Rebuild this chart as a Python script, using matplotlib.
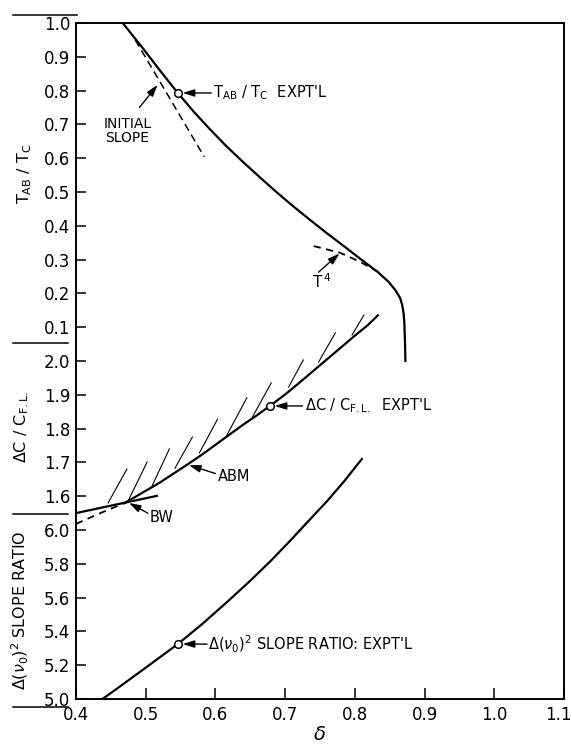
import matplotlib
matplotlib.use("Agg")
import matplotlib.pyplot as plt
from matplotlib.lines import Line2D
from matplotlib.transforms import ScaledTranslation

plt.rcParams['font.family'] = ['DejaVu Sans']
plt.rcParams['mathtext.fontset'] = 'dejavusans'

# --- top panel: T_AB / T_C vs delta
t_delta = [0.467, 0.496, 0.521, 0.546, 0.570, 0.592, 0.615, 0.640, 0.664, 0.688,
           0.712, 0.736, 0.758, 0.781, 0.808, 0.833, 0.848, 0.858, 0.865, 0.868,
           0.870, 0.871, 0.872, 0.8725]
t_ratio = [1.000, 0.925, 0.858, 0.793, 0.735, 0.686, 0.637, 0.588, 0.543, 0.499,
           0.457, 0.417, 0.381, 0.345, 0.302, 0.263, 0.235, 0.210, 0.186, 0.165,
           0.140, 0.112, 0.050, 0.000]
t_expt = (0.546, 0.793)
slope_delta = [0.485, 0.584]
slope_ratio = [0.950, 0.604]
t4_delta = [0.741, 0.779, 0.808, 0.834]
t4_ratio = [0.340, 0.320, 0.293, 0.263]

# --- middle panel: dC / C_FL
abm_delta = [0.470, 0.495, 0.520, 0.540, 0.560, 0.580, 0.600, 0.620, 0.640, 0.660,
             0.678, 0.700, 0.720, 0.740, 0.760, 0.780, 0.800, 0.818, 0.833]
abm_c = [1.580, 1.610, 1.640, 1.667, 1.694, 1.722, 1.752, 1.782, 1.812, 1.840,
         1.867, 1.901, 1.935, 1.970, 2.005, 2.040, 2.075, 2.105, 2.135]
abm_dash_delta = [0.400, 0.435, 0.470]
abm_dash_c = [1.518, 1.550, 1.580]
bw_delta = [0.400, 0.516]
bw_c = [1.550, 1.601]
c_expt = (0.678, 1.867)
hatch_d0 = [0.446, 0.474, 0.509, 0.542, 0.577, 0.615, 0.653, 0.705, 0.748, 0.796]
hatch_c0 = [1.580, 1.583, 1.630, 1.683, 1.728, 1.775, 1.834, 1.923, 1.997, 2.077]
hatch_d1 = [0.473, 0.502, 0.534, 0.567, 0.603, 0.645, 0.680, 0.726, 0.772, 0.813]
hatch_c1 = [1.680, 1.701, 1.740, 1.775, 1.828, 1.891, 1.935, 2.003, 2.083, 2.136]

# --- bottom panel: d(nu0)^2 slope ratio
s_delta = [0.438, 0.460, 0.490, 0.518, 0.546, 0.580, 0.617, 0.650, 0.680, 0.708,
           0.735, 0.760, 0.785, 0.810]
s_ratio = [5.000, 5.065, 5.155, 5.240, 5.325, 5.440, 5.575, 5.700, 5.820, 5.940,
           6.060, 6.170, 6.290, 6.420]
s_expt = (0.546, 5.325)

x_ticks = [0.4, 0.5, 0.6, 0.7, 0.8, 0.9, 1.0, 1.1]
t_ticks = [0.1, 0.2, 0.3, 0.4, 0.5, 0.6, 0.7, 0.8, 0.9, 1.0]
c_ticks = [1.6, 1.7, 1.8, 1.9, 2.0]
s_ticks = [5.0, 5.2, 5.4, 5.6, 5.8, 6.0]

W, H = 572, 751
fig = plt.figure(figsize=(W / 100, H / 100), dpi=100)
rect = [76 / W, 52 / H, 488 / W, 676 / H]

ax = fig.add_axes(rect)
axc = fig.add_axes(rect, sharex=ax)
axs = fig.add_axes(rect, sharex=ax)
for a in (axc, axs):
    a.patch.set_visible(False)
    for sp in a.spines.values():
        sp.set_visible(False)
    a.tick_params(axis='x', bottom=False, labelbottom=False)
for sp in ax.spines.values():
    sp.set_linewidth(1.4)

ax.set_xlim(0.4, 1.1)
ax.set_ylim(-1.0, 1.0)
axc.set_ylim(1.0, 3.0)
axs.set_ylim(5.0, 9.0)

ax.set_xticks(x_ticks)
ax.set_xticklabels([f"{v:.1f}" for v in x_ticks])
ax.set_yticks(t_ticks)
ax.set_yticklabels([f"{v:.1f}" for v in t_ticks])
axc.set_yticks(c_ticks)
axc.set_yticklabels([f"{v:.1f}" for v in c_ticks])
axs.set_yticks(s_ticks)
axs.set_yticklabels([f"{v:.1f}" for v in s_ticks])
for a in (ax, axc, axs):
    a.tick_params(axis='y', direction='in', length=7, width=1.1, pad=4, labelsize=12)
ax.tick_params(axis='x', direction='in', length=8, width=1.1, pad=5, labelsize=12)
ax.set_xlabel(r'$\delta$', fontsize=14, labelpad=1)
# keep the last x label inside the figure
last = ax.get_xticklabels()[-1]
last.set_transform(last.get_transform() + ScaledTranslation(-0.06, 0, fig.dpi_scale_trans))

lw = 1.6
# top panel
ax.plot(t_delta, t_ratio, color='k', lw=lw)
ax.plot(slope_delta, slope_ratio, color='k', lw=1.1, dashes=(5, 3))
ax.plot(t4_delta, t4_ratio, color='k', lw=1.3, dashes=(4, 3))
ax.plot(*t_expt, 'o', ms=5.5, mfc='white', mec='k', mew=1.1)

arrow = dict(arrowstyle='-|>,head_length=0.7,head_width=0.22', color='k', lw=1.0,
             shrinkA=0, shrinkB=0)
ax.annotate('', xy=(0.517, 0.817), xytext=(0.491, 0.75), arrowprops=arrow)
ax.text(0.474, 0.68, 'INITIAL\nSLOPE', ha='center', va='center', fontsize=10,
        linespacing=1.0)
ax.annotate('', xy=(0.553, 0.793), xytext=(0.594, 0.793), arrowprops=arrow)
ax.text(0.597, 0.793, r"T$_{\rm AB}$ / T$_{\rm C}$  EXPT'L", ha='left', va='center',
        fontsize=10.5)
ax.annotate('', xy=(0.778, 0.318), xytext=(0.748, 0.263), arrowprops=arrow)
ax.text(0.738, 0.236, r'T$^{\,4}$', ha='left', va='center', fontsize=11)

# middle panel
axc.plot(abm_delta, abm_c, color='k', lw=lw)
axc.plot(abm_dash_delta, abm_dash_c, color='k', lw=1.3, dashes=(4, 3))
axc.plot(bw_delta, bw_c, color='k', lw=lw)
for d0, c0, d1, c1 in zip(hatch_d0, hatch_c0, hatch_d1, hatch_c1):
    axc.plot([d0, d1], [c0, c1], color='k', lw=0.8)
axc.plot(*c_expt, 'o', ms=5.5, mfc='white', mec='k', mew=1.1)
axc.annotate('', xy=(0.685, 1.867), xytext=(0.725, 1.867), arrowprops=arrow)
axc.text(0.728, 1.867, r"$\Delta$C / C$_{\rm F.L.}$  EXPT'L", ha='left', va='center',
         fontsize=10.5)
axc.annotate('', xy=(0.562, 1.692), xytext=(0.600, 1.667), arrowprops=arrow)
axc.text(0.604, 1.657, 'ABM', ha='left', va='center', fontsize=10.5)
axc.annotate('', xy=(0.476, 1.580), xytext=(0.503, 1.550), arrowprops=arrow)
axc.text(0.505, 1.537, 'BW', ha='left', va='center', fontsize=10.5)

# bottom panel
axs.plot(s_delta, s_ratio, color='k', lw=lw)
axs.plot(*s_expt, 'o', ms=5.5, mfc='white', mec='k', mew=1.1)
axs.annotate('', xy=(0.553, 5.325), xytext=(0.588, 5.325), arrowprops=arrow)
axs.text(0.590, 5.325, r"$\Delta(\nu_0)^2$ SLOPE RATIO: EXPT'L", ha='left', va='center',
         fontsize=10.5)

# y labels and panel separators on the left
fig.text(25 / W, 1 - 174 / H, r'T$_{\rm AB}$ / T$_{\rm C}$', rotation=90,
         ha='center', va='center', fontsize=11.5)
fig.text(22 / W, 1 - 427 / H, r'$\Delta$C / C$_{\rm F.L.}$', rotation=90,
         ha='center', va='center', fontsize=11.5)
fig.text(20 / W, 1 - 610 / H, r'$\Delta(\nu_0)^2$ SLOPE RATIO', rotation=90,
         ha='center', va='center', fontsize=11.5)
for ypx, x1 in [(15, 77), (343, 68), (514, 68), (707, 68)]:
    fig.add_artist(Line2D([13 / W, x1 / W], [1 - ypx / H, 1 - ypx / H],
                          color='k', lw=1.1, transform=fig.transFigure))

fig.savefig('out.png', dpi=100)
